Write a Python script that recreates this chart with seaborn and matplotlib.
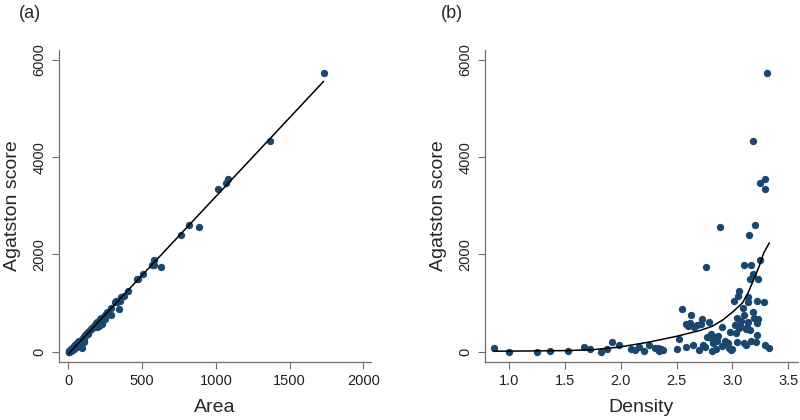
import matplotlib
matplotlib.use("Agg")
import matplotlib.pyplot as plt
import seaborn as sns
import pandas as pd

NAVY = "#1a476f"
AXIS_GRAY = "#6e6e6e"

# density (agatston / area), agatston score and area per lesion
density = [0.86, 1.00, 1.25, 1.37, 1.53, 1.67, 1.72, 1.82, 1.88, 1.92,
           1.98, 2.09, 2.13, 2.16, 2.21, 2.25, 2.31, 2.34, 2.35, 2.38,
           2.50, 2.52, 2.55, 2.58, 2.58, 2.63, 2.62, 2.65, 2.66, 2.70,
           2.73, 2.72, 2.74, 2.75, 2.76, 2.79, 2.81, 2.81, 2.82, 2.83,
           2.85, 2.84, 2.86, 2.89, 2.91, 2.91, 2.93, 2.96, 2.97, 2.98,
           2.99, 3.01, 3.02, 3.03, 3.04, 3.04, 3.05, 3.06, 3.06, 3.08,
           3.09, 3.10, 3.10, 3.10, 3.12, 3.12, 3.14, 3.14, 3.14, 3.16,
           3.17, 3.15, 3.16, 3.17, 3.18, 3.18, 3.18, 3.20, 3.22, 3.23,
           3.22, 3.22, 3.23, 3.25, 3.25, 3.28, 3.29, 3.29, 3.29, 3.31,
           3.33, 2.60, 2.68, 2.77, 2.87, 2.94, 3.00, 3.07, 3.13, 3.19,
           3.21, 2.33, 2.36]
agatston = [82, 3, 4, 27, 27, 96, 62, 7, 62, 200,
            144, 62, 48, 96, 14, 144, 82, 27, 62, 48,
            62, 267, 883, 582, 96, 760, 596, 150, 513, 48,
            678, 582, 137, 96, 1739, 623, 288, 370, 14, 185,
            62, 308, 219, 2560, 513, 116, 219, 185, 82, 404,
            34, 1054, 554, 390, 698, 205, 1143, 1246, 493, 643,
            903, 1793, 766, 185, 472, 150, 609, 1027, 1123, 459,
            233, 2410, 1499, 1793, 4340, 1609, 828, 2615, 1040, 684,
            596, 356, 1499, 3470, 1882, 1034, 137, 3347, 3560, 5729,
            82, 540, 560, 300, 330, 160, 60, 560, 520, 700,
            200, 70, 55]
area = [95, 3, 3, 20, 18, 57, 36, 4, 33, 104,
        73, 30, 23, 44, 6, 64, 35, 12, 26, 20,
        25, 106, 346, 226, 37, 289, 227, 57, 193, 18,
        248, 214, 50, 35, 630, 223, 102, 132, 5, 65,
        22, 108, 77, 886, 176, 40, 75, 63, 28, 136,
        11, 350, 183, 129, 230, 67, 375, 407, 161, 209,
        292, 578, 247, 60, 151, 48, 194, 327, 358, 145,
        74, 765, 474, 566, 1365, 506, 260, 817, 323, 212,
        185, 111, 464, 1068, 579, 315, 42, 1017, 1082, 1731,
        25, 208, 209, 108, 115, 54, 20, 182, 166, 219,
        62, 30, 24]

# fitted curve of panel (b)
fit_density = [0.86, 1.00, 1.25, 1.52, 1.75, 1.98, 2.25, 2.50, 2.71, 2.82,
               2.91, 3.01, 3.09, 3.14, 3.19, 3.24, 3.28, 3.33]
fit_agatston = [14, 16, 20, 27, 45, 96, 200, 320, 440, 527,
                650, 835, 1006, 1212, 1485, 1760, 2033, 2238]

df = pd.DataFrame({"density": density, "agatston": agatston, "area": area})
fit = pd.DataFrame({"density": fit_density, "agatston": fit_agatston})

sns.set_style("ticks")
plt.rcParams["font.family"] = ["Liberation Sans", "DejaVu Sans"]

fig = plt.figure(figsize=(8, 4.2), dpi=100)
ax1 = fig.add_axes([0.0737, 0.139, 0.39, 0.742])
ax2 = fig.add_axes([0.606, 0.139, 0.3915, 0.742])

# (a) area vs agatston
sns.scatterplot(data=df, x="area", y="agatston", ax=ax1, color=NAVY,
                s=28, linewidth=0, zorder=2)
sns.regplot(data=df, x="area", y="agatston", ax=ax1, scatter=False, ci=None,
            color="black", line_kws={"linewidth": 1.1, "zorder": 3})
ax1.set_xlim(-64, 2052)
ax1.set_xticks([0, 500, 1000, 1500, 2000])
ax1.set_xlabel("Area")

# (b) density vs agatston
sns.scatterplot(data=df, x="density", y="agatston", ax=ax2, color=NAVY,
                s=28, linewidth=0, zorder=2)
sns.lineplot(data=fit, x="density", y="agatston", ax=ax2, color="black",
             linewidth=1.1, zorder=3)
ax2.set_xlim(0.782, 3.587)
ax2.set_xticks([1.0, 1.5, 2.0, 2.5, 3.0, 3.5])
ax2.set_xticklabels(["1.0", "1.5", "2.0", "2.5", "3.0", "3.5"])
ax2.set_xlabel("Density")

for ax in (ax1, ax2):
    ax.set_ylim(-200, 6200)
    ax.set_yticks([0, 2000, 4000, 6000])
    ax.set_ylabel("Agatston score", fontsize=14, labelpad=8)
    ax.xaxis.label.set_fontsize(14)
    ax.xaxis.labelpad = 8
    for lbl in ax.get_yticklabels():
        lbl.set_rotation(90)
        lbl.set_va("center")
    ax.tick_params(axis="both", length=5, width=0.8, color=AXIS_GRAY,
                   labelsize=10.5, labelcolor="#222222", pad=4)
    for side in ("left", "bottom"):
        ax.spines[side].set_color(AXIS_GRAY)
        ax.spines[side].set_linewidth(0.9)
    sns.despine(ax=ax)

fig.text(0.037, 0.967, "(a)", fontsize=13, ha="center", va="center")
fig.text(0.565, 0.967, "(b)", fontsize=13, ha="center", va="center")

fig.savefig("out.png", dpi=100, facecolor="white")
